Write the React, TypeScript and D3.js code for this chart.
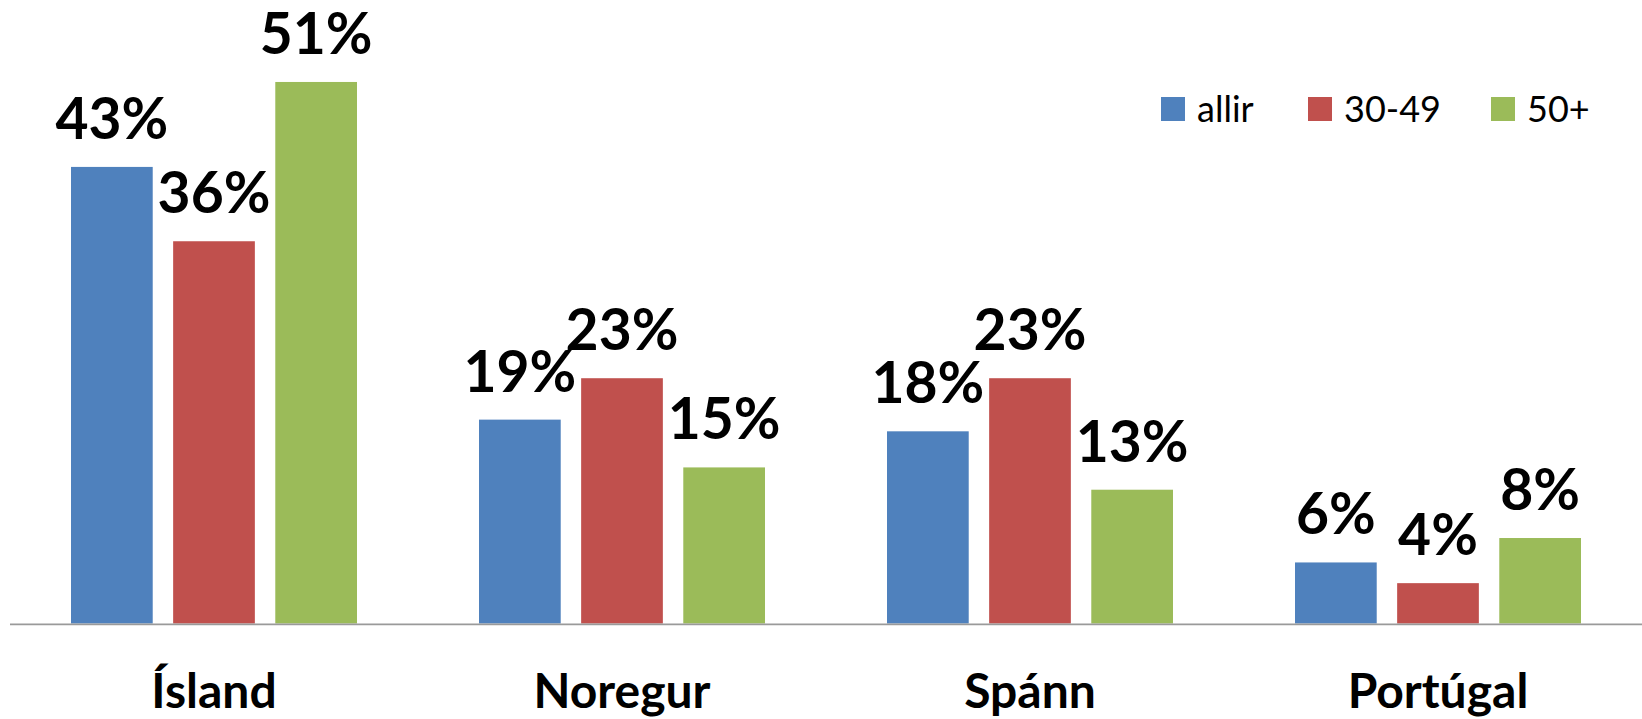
import * as d3 from 'd3';

// chart data
const countries = ['Ísland', 'Noregur', 'Spánn', 'Portúgal'];
const seriesNames = ['allir', '30-49', '50+'];
const allir = [0.43, 0.192, 0.181, 0.0575];
const age3049 = [0.36, 0.231, 0.231, 0.038];
const age50 = [0.51, 0.147, 0.126, 0.0805];
const seriesColors = ['#4f81bd', '#c0504d', '#9bbb59'];

const W = 1642;
const H = 719;
const margin = { left: 10, right: 0, axisY: 623.5, top: 40 };
const legendX = [1161, 1308, 1491];

const App = () => {
  const seriesValues = [allir, age3049, age50];

  const x0 = d3.scaleBand<string>()
    .domain(countries)
    .range([margin.left, W - margin.right])
    .paddingInner(0)
    .paddingOuter(0);

  const x1 = d3.scaleBand<string>()
    .domain(seriesNames)
    .range([61, 347])
    .paddingInner(0.2)
    .paddingOuter(0);

  const y = d3.scaleLinear()
    .domain([0, 0.55])
    .range([margin.axisY, margin.axisY - 584]);

  const fmt = (v: number) => `${Math.round(v * 100)}%`;

  return (
    <svg
      width={W}
      height={H}
      style={{ position: 'absolute', left: 0, top: 0, display: 'block', background: '#fff' }}
      fontFamily="Lato, 'Open Sans', sans-serif"
    >
      {countries.map((c, ci) => (
        <g key={c} transform={`translate(${x0(c)},0)`}>
          {seriesNames.map((s, si) => {
            const v = seriesValues[si][ci];
            const bx = x1(s) as number;
            const bw = x1.bandwidth();
            return (
              <g key={s}>
                <rect
                  x={bx}
                  y={y(v)}
                  width={bw}
                  height={y(0) - y(v)}
                  fill={seriesColors[si]}
                />
                <text
                  x={bx + bw / 2}
                  y={y(v) - 28}
                  textAnchor="middle"
                  fontWeight="bold"
                  fontSize={57}
                  fill="#000"
                >
                  {fmt(v)}
                </text>
              </g>
            );
          })}
          <text
            x={x0.bandwidth() / 2}
            y={708}
            textAnchor="middle"
            fontWeight="bold"
            fontSize={48}
            fill="#000"
          >
            {c}
          </text>
        </g>
      ))}

      <line
        x1={margin.left}
        x2={W}
        y1={y(0) + 0.8}
        y2={y(0) + 0.8}
        stroke="#9a9a9a"
        strokeWidth={1.8}
      />

      {seriesNames.map((s, i) => (
        <g key={s} transform={`translate(${legendX[i]},97)`}>
          <rect width={24} height={24} fill={seriesColors[i]} />
          <text x={36} y={24.5} fontSize={36} fill="#000">
            {s}
          </text>
        </g>
      ))}
    </svg>
  );
};

export default App;
